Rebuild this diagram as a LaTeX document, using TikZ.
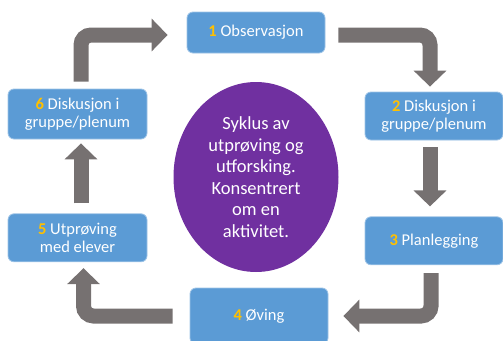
\documentclass[tikz,border=0pt]{standalone}
\usepackage{fontspec}
\setmainfont{Carlito}
\usepackage{tikz}
\usetikzlibrary{shapes.geometric, arrows.meta, positioning}
\usepackage{xcolor}
\definecolor{boxblue}{HTML}{5B9BD5}
\definecolor{numgold}{HTML}{FFC000}
\definecolor{flowgrey}{RGB}{118,113,113}
\definecolor{cyclepurple}{HTML}{7030A0}
\newcommand{\nr}[1]{\textcolor{numgold}{\textbf{#1}}}

\begin{document}
\begin{tikzpicture}[x=1pt, y=-1pt,
    stepbox/.style={draw=boxblue!60!white, line width=0.8pt, fill=boxblue, rounded corners=6pt,
        text=white, align=center, minimum width=138pt, minimum height=48pt, inner sep=2pt,
        font=\fontsize{16.5}{18.5}\selectfont},
    flow/.style={draw=flowgrey, line width=15pt, rounded corners=10pt,
        -{Triangle[length=16pt, width=32pt]}}]
    \useasboundingbox (0,0) rectangle (503,340);
    % centre
    \node (cycle) [ellipse, fill=cyclepurple, minimum width=165pt, minimum height=190pt, inner sep=0pt,
        text=white, align=center, font=\fontsize{18.5}{21.5}\selectfont] at (256,177)
        {Syklus av\\utprøving og\\utforsking.\\Konsentrert\\om en\\aktivitet.};
    % the six steps
    \node (b1) [stepbox, minimum height=41pt] at (256,32.5) {\nr{1} Observasjon};
    \node (b2) [stepbox] at (434,116) {\nr{2} Diskusjon i\\gruppe/plenum};
    \node (b3) [stepbox, below=76pt of b2] {\nr{3} Planlegging};
    \node (b4) [stepbox, minimum height=56pt] at (259,316) {\nr{4} Øving};
    \node (b6) [stepbox, minimum width=139pt, minimum height=50pt] at (77.5,114) {\nr{6} Diskusjon i\\gruppe/plenum};
    \node (b5) [stepbox, minimum width=139pt, below=74pt of b6] {\nr{5} Utprøving\\med elever};
    % arrows
    \draw[flow] ([xshift=3.5pt, yshift=7pt]b6.north) |- ([xshift=-19pt, yshift=-2.5pt]b1.west);
    \draw[flow] ([xshift=13pt, yshift=-2.5pt]b1.east) -| ([xshift=-4pt, yshift=5pt]b2.north);
    \draw[flow] ([xshift=-4pt, yshift=-7pt]b2.south) -- ([xshift=-4pt, yshift=10pt]b3.north);
    \draw[flow] ([xshift=-3pt, yshift=-8pt]b3.south) |- ([xshift=15pt]b4.east);
    \draw[flow] ([xshift=-17pt]b4.west) -| ([xshift=6pt, yshift=-6pt]b5.south);
    \draw[flow] ([xshift=3.5pt, yshift=10pt]b5.north) -- ([xshift=3.5pt, yshift=-4pt]b6.south);
\end{tikzpicture}
\end{document}
